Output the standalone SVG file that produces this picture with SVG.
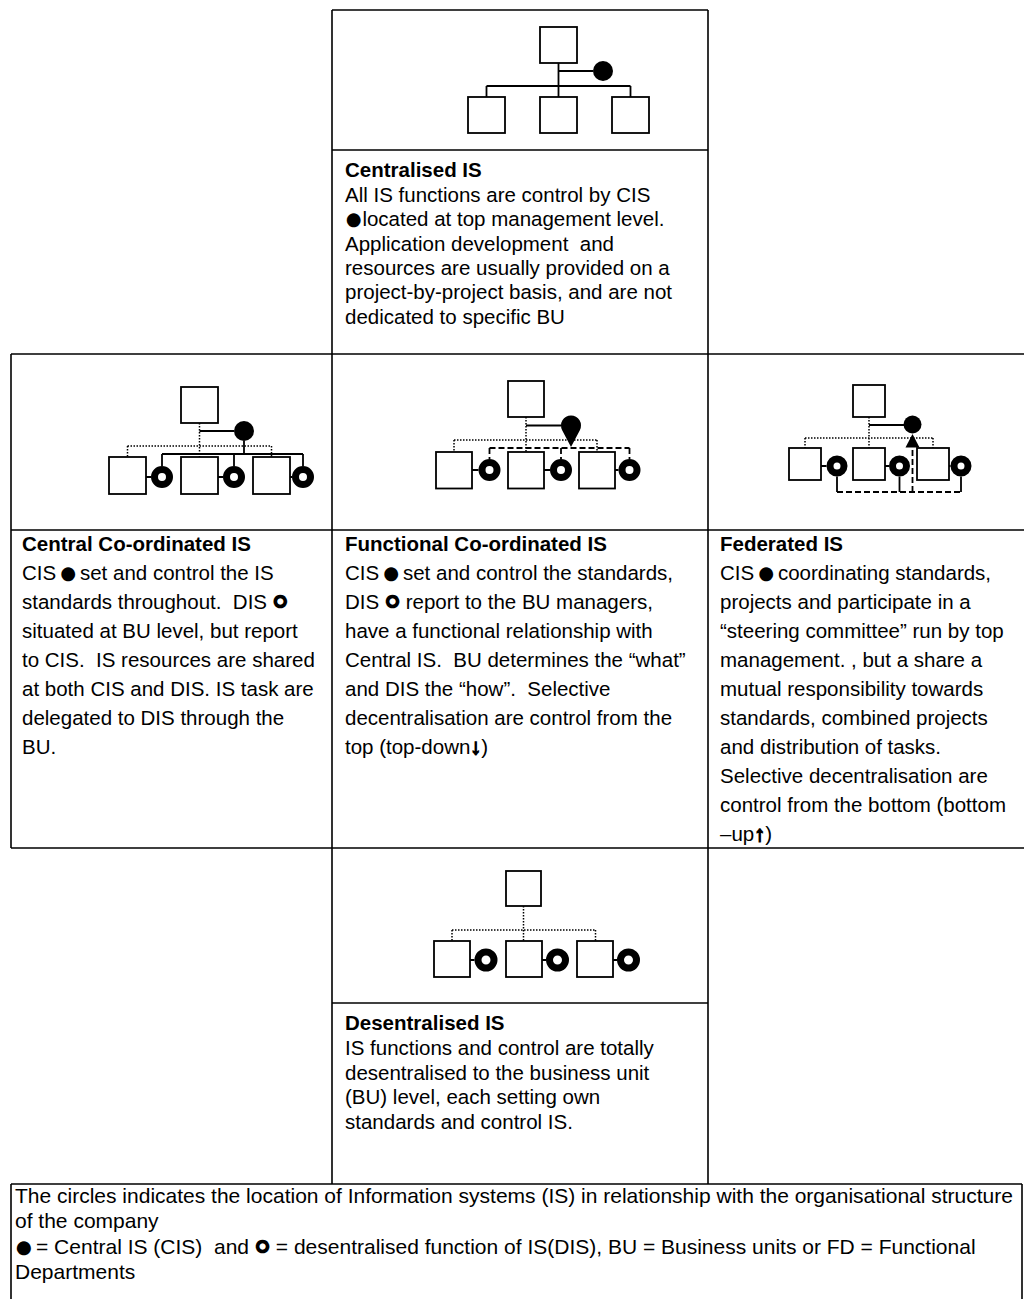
<svg xmlns="http://www.w3.org/2000/svg" width="1024" height="1299" viewBox="0 0 1024 1299">
  <style>
    text { font-family: "Liberation Sans", Arial, sans-serif; font-size: 20.5px; fill: #000; }
    .title { font-weight: bold; }
    .note { font-size: 21px; }
    .grid { stroke: #000; stroke-width: 1.6; fill: none; }
    .box { fill: #fff; stroke: #000; stroke-width: 1.8; }
    .solid { stroke: #000; stroke-width: 1.8; fill: none; }
    .dot { stroke: #000; stroke-width: 1.5; stroke-dasharray: 1.5 1.5; fill: none; }
    .dash { stroke: #000; stroke-width: 1.8; stroke-dasharray: 6 3; fill: none; }
    .cis { fill: #000; }
    .dis { fill: none; stroke: #000; stroke-width: 7; }
    /* inline symbols: thickened glyphs so they read like the chart markers */
    .bul { stroke: #000; stroke-width: 5; stroke-linejoin: round; }
    .ring { font-size: 25px; stroke: #000; stroke-width: 2.6; }
    .arr { font-size: 22px; font-weight: bold; stroke: #000; stroke-width: 1.4; }
  </style>

  <!-- table frame -->
  <g id="frame" class="grid">
    <!-- top cell -->
    <path d="M332 10 H708 M332 150 H708"/>
    <path d="M332 10 V1184 M708 10 V1184"/>
    <!-- middle row -->
    <path d="M11 354 H1024 M11 530 H1024 M11 848 H1024"/>
    <path d="M11 354 V848"/>
    <!-- bottom cell -->
    <path d="M332 1003 H708"/>
    <!-- legend box -->
    <path d="M11 1184 H1022 M11 1184 V1299 M1022 1184 V1299"/>
  </g>

  <!-- Centralised IS -->
  <g id="centralised">
    <g id="cen-connectors">
      <path class="solid" d="M558.5 63 V97 M558.5 71 H593 M486.5 86 H630.5 M486.5 86 V97 M630.5 86 V97"/>
    </g>
    <g id="cen-top"><rect class="box" x="540" y="27" width="37" height="36"/></g>
    <g id="cen-cis"><circle class="cis" cx="603" cy="71" r="10"/></g>
    <g id="cen-bu1"><rect class="box" x="468" y="97" width="37" height="36"/></g>
    <g id="cen-bu2"><rect class="box" x="540" y="97" width="37" height="36"/></g>
    <g id="cen-bu3"><rect class="box" x="612" y="97" width="37" height="36"/></g>
    <g id="cen-text">
      <text x="345" y="177" class="title">Centralised IS</text>
      <text x="345" y="202">All IS functions are control by CIS</text>
      <text x="345" y="226.3"><tspan class="bul" dx="2.5">●</tspan><tspan dx="2.5">located at top management level.</tspan></text>
      <text x="345" y="250.6" xml:space="preserve">Application development  and</text>
      <text x="345" y="274.9">resources are usually provided on a</text>
      <text x="345" y="299.2">project-by-project basis, and are not</text>
      <text x="345" y="323.5">dedicated to specific BU</text>
    </g>
  </g>

  <!-- Central Co-ordinated IS -->
  <g id="central-coordinated">
    <g id="cc-connectors">
      <path class="dot" d="M199.5 423 V457 M127.5 446 H271.5 M127.5 446 V457 M271.5 446 V457"/>
      <path class="solid" d="M199.5 431 H234 M244 441 V454 M162 454 H303 M162 454 V466 M234 454 V466 M303 454 V466 M146 477 H151 M218 477 H223 M290 477 H292"/>
    </g>
    <g id="cc-top"><rect class="box" x="181" y="387" width="37" height="36"/></g>
    <g id="cc-cis"><circle class="cis" cx="244" cy="431" r="10"/></g>
    <g id="cc-bu1"><rect class="box" x="109" y="457" width="37" height="37"/></g>
    <g id="cc-bu2"><rect class="box" x="181" y="457" width="37" height="37"/></g>
    <g id="cc-bu3"><rect class="box" x="253" y="457" width="37" height="37"/></g>
    <g id="cc-dis1"><circle class="dis" cx="162" cy="477" r="7.5"/></g>
    <g id="cc-dis2"><circle class="dis" cx="234" cy="477" r="7.5"/></g>
    <g id="cc-dis3"><circle class="dis" cx="303" cy="477" r="7.5"/></g>
    <g id="cc-text">
      <text x="22" y="551" class="title">Central Co-ordinated IS</text>
      <text x="22" y="580">CIS <tspan class="bul">●</tspan> set and control the IS</text>
      <text x="22" y="609" xml:space="preserve">standards throughout.  DIS <tspan class="ring">○</tspan></text>
      <text x="22" y="638">situated at BU level, but report</text>
      <text x="22" y="667" xml:space="preserve">to CIS.  IS resources are shared</text>
      <text x="22" y="696">at both CIS and DIS. IS task are</text>
      <text x="22" y="725">delegated to DIS through the</text>
      <text x="22" y="754">BU.</text>
    </g>
  </g>

  <!-- Functional Co-ordinated IS -->
  <g id="functional-coordinated">
    <g id="fc-connectors">
      <path class="dot" d="M526 417 V452 M454 440 H597 M454 440 V452 M597 440 V452"/>
      <path class="solid" d="M526 425.5 H561 M472 470 H478.5 M544 470 H550 M615 470 H618.5"/>
      <path class="dash" d="M489.5 448 H629.5 M489.5 448 V459 M561 448 V459 M629.5 448 V459"/>
    </g>
    <g id="fc-top"><rect class="box" x="508" y="381" width="36" height="36"/></g>
    <g id="fc-cis"><path class="cis" d="M571 447 L562.15 430.15 A10 10 0 1 1 579.85 430.15 Z"/></g>
    <g id="fc-bu1"><rect class="box" x="436" y="452" width="36" height="36.5"/></g>
    <g id="fc-bu2"><rect class="box" x="508" y="452" width="36" height="36.5"/></g>
    <g id="fc-bu3"><rect class="box" x="579" y="452" width="36" height="36.5"/></g>
    <g id="fc-dis1"><circle class="dis" cx="489.5" cy="470" r="7.5"/></g>
    <g id="fc-dis2"><circle class="dis" cx="561" cy="470" r="7.5"/></g>
    <g id="fc-dis3"><circle class="dis" cx="629.5" cy="470" r="7.5"/></g>
    <g id="fc-text">
      <text x="345" y="551" class="title">Functional Co-ordinated IS</text>
      <text x="345" y="580">CIS <tspan class="bul">●</tspan> set and control the standards,</text>
      <text x="345" y="609" xml:space="preserve">DIS <tspan class="ring">○</tspan> report to the BU managers,</text>
      <text x="345" y="638">have a functional relationship with</text>
      <text x="345" y="667" xml:space="preserve">Central IS.  BU determines the “what”</text>
      <text x="345" y="696" xml:space="preserve">and DIS the “how”.  Selective</text>
      <text x="345" y="725">decentralisation are control from the</text>
      <text x="345" y="754">top (top-down<tspan class="arr">↓</tspan>)</text>
    </g>
  </g>

  <!-- Federated IS -->
  <g id="federated">
    <g id="fe-connectors">
      <path class="dot" d="M869 417 V448 M805 438 H933 M805 438 V448 M933 438 V448"/>
      <path class="solid" d="M869 425 H904 M821 466 H826.5 M885 466 H889 M949 466 H950.5 M837 476.5 V492 M899.5 476.5 V492 M961 476.5 V492"/>
      <path class="dash" d="M837 492 H961 M912.5 492 V447"/>
      <polygon class="cis" points="912.5,434 905.5,447.5 919.5,447.5"/>
    </g>
    <g id="fe-top"><rect class="box" x="853" y="385" width="32" height="32"/></g>
    <g id="fe-cis"><circle class="cis" cx="912.5" cy="424.5" r="9"/></g>
    <g id="fe-bu1"><rect class="box" x="789" y="448" width="32" height="32"/></g>
    <g id="fe-bu2"><rect class="box" x="853" y="448" width="32" height="32"/></g>
    <g id="fe-bu3"><rect class="box" x="917" y="448" width="32" height="32"/></g>
    <g id="fe-dis1"><circle class="dis" cx="837" cy="466" r="7"/></g>
    <g id="fe-dis2"><circle class="dis" cx="899.5" cy="466" r="7"/></g>
    <g id="fe-dis3"><circle class="dis" cx="961" cy="466" r="7"/></g>
    <g id="fe-text">
      <text x="720" y="551" class="title">Federated IS</text>
      <text x="720" y="580">CIS <tspan class="bul">●</tspan> coordinating standards,</text>
      <text x="720" y="609">projects and participate in a</text>
      <text x="720" y="638">“steering committee” run by top</text>
      <text x="720" y="667">management. , but a share a</text>
      <text x="720" y="696">mutual responsibility towards</text>
      <text x="720" y="725">standards, combined projects</text>
      <text x="720" y="754">and distribution of tasks.</text>
      <text x="720" y="783">Selective decentralisation are</text>
      <text x="720" y="812">control from the bottom (bottom</text>
      <text x="720" y="841">–up<tspan class="arr">↑</tspan>)</text>
    </g>
  </g>

  <!-- Desentralised IS -->
  <g id="desentralised">
    <g id="de-connectors">
      <path class="dot" d="M523.5 906 V941 M452 930 H595.5 M452 930 V941 M595.5 930 V941"/>
      <path class="solid" d="M470 960 H474.5 M542 960 H546 M613 960 H617"/>
    </g>
    <g id="de-top"><rect class="box" x="506" y="871" width="35" height="35"/></g>
    <g id="de-bu1"><rect class="box" x="434" y="941" width="36" height="36"/></g>
    <g id="de-bu2"><rect class="box" x="506" y="941" width="36" height="36"/></g>
    <g id="de-bu3"><rect class="box" x="577" y="941" width="36" height="36"/></g>
    <g id="de-dis1"><circle class="dis" cx="486" cy="960" r="8"/></g>
    <g id="de-dis2"><circle class="dis" cx="557.5" cy="960" r="8"/></g>
    <g id="de-dis3"><circle class="dis" cx="628.5" cy="960" r="8"/></g>
    <g id="de-text">
      <text x="345" y="1030" class="title">Desentralised IS</text>
      <text x="345" y="1055">IS functions and control are totally</text>
      <text x="345" y="1079.5">desentralised to the business unit</text>
      <text x="345" y="1104">(BU) level, each setting own</text>
      <text x="345" y="1128.5">standards and control IS.</text>
    </g>
  </g>

  <!-- legend -->
  <g id="legend">
    <text x="15" y="1203" class="note">The circles indicates the location of Information systems (IS) in relationship with the organisational structure</text>
    <text x="15" y="1228" class="note">of the company</text>
    <text x="15" y="1254" class="note" xml:space="preserve"><tspan class="bul" dx="2.5">●</tspan> = Central IS (CIS)  and <tspan class="ring">○</tspan> = desentralised function of IS(DIS), BU = Business units or FD = Functional</text>
    <text x="15" y="1279" class="note">Departments</text>
  </g>
</svg>
